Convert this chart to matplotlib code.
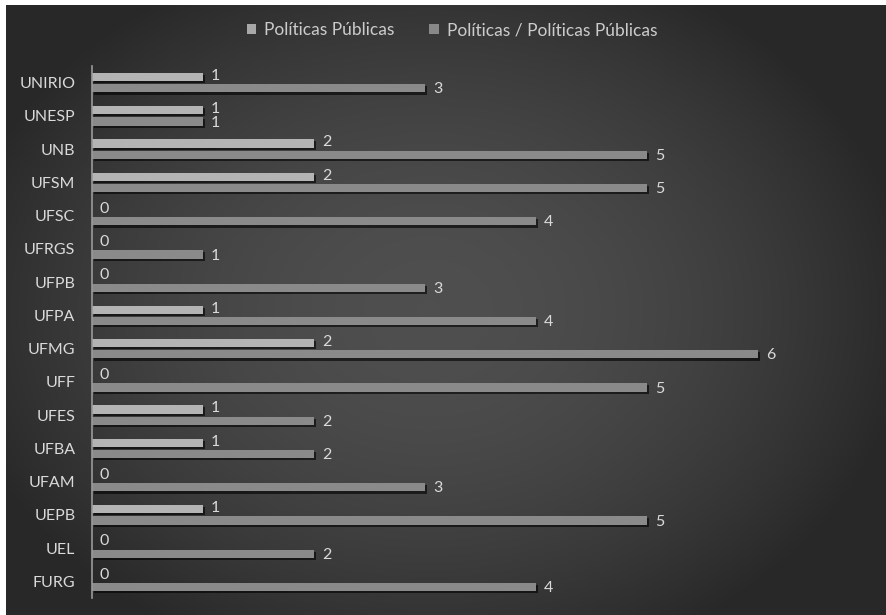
import numpy as np
import matplotlib
matplotlib.use("Agg")
import matplotlib.pyplot as plt
import matplotlib.patheffects as pe

categories = ["UNIRIO", "UNESP", "UNB", "UFSM", "UFSC", "UFRGS", "UFPB", "UFPA",
              "UFMG", "UFF", "UFES", "UFBA", "UFAM", "UEPB", "UEL", "FURG"]
politicas_publicas = [1, 1, 2, 2, 0, 0, 0, 1, 2, 0, 1, 1, 0, 1, 0, 0]
politicas_politicas_publicas = [3, 1, 5, 5, 4, 1, 3, 4, 6, 5, 2, 2, 3, 5, 2, 4]
series_names = ["Políticas Públicas", "Políticas / Políticas Públicas"]

W, H = 887, 615
fig = plt.figure(figsize=(W / 100, H / 100), dpi=100)
fig.patch.set_facecolor("white")

# background radial gradient panel
bg = fig.add_axes([6 / W, 0, 1 - 6 / W, 1 - 5 / H])
yy, xx = np.mgrid[0:1:300j, 0:1:440j]
r = np.sqrt(((xx - 0.48) / 0.8) ** 2 + ((yy - 0.5) / 0.9) ** 2)
val = 0.31 - 0.15 * np.clip(r / 0.68, 0, 1) ** 1.8
img = np.dstack([val, val, val])
bg.imshow(img, aspect="auto", extent=[0, 1, 0, 1], origin="lower")
bg.axis("off")

font = ["Lato", "DejaVu Sans"]
txt_color = "#dadada"

ax = fig.add_axes([92 / W, 1 - 598 / H, (869 - 92) / W, (598 - 66) / H])
ax.set_facecolor("none")
n = len(categories)
y = np.arange(n)[::-1]
h = 0.25
off = 0.17
shadow = [pe.SimplePatchShadow(offset=(1.5, -1.5), shadow_rgbFace="black", alpha=0.6), pe.Normal()]
b1 = ax.barh(y + off, politicas_publicas, height=h, color="#b4b4b4", label=series_names[0],
             path_effects=shadow)
b2 = ax.barh(y - off, politicas_politicas_publicas, height=h, color="#8a8a8a", label=series_names[1],
             path_effects=shadow)

for yi, v in zip(y, politicas_publicas):
    ax.text(v + 0.07, yi + off + 0.03, str(v), color=txt_color, fontsize=11.5,
            va="center", ha="left", family=font)
for yi, v in zip(y, politicas_politicas_publicas):
    ax.text(v + 0.07, yi - off - 0.03, str(v), color=txt_color, fontsize=11.5,
            va="center", ha="left", family=font)

ax.set_xlim(0, 7)
ax.set_ylim(-0.5, n - 0.5)
ax.set_yticks(y)
ax.set_yticklabels(categories, color=txt_color, fontsize=11.5, family=font)
ax.tick_params(axis="y", length=0, pad=12)
ax.set_xticks([])
for s in ["top", "right", "bottom"]:
    ax.spines[s].set_visible(False)
ax.spines["left"].set_color("#9a9a9a")
ax.spines["left"].set_linewidth(1.2)

leg = fig.legend(handles=[b1, b2], labels=series_names, loc="center",
                 bbox_to_anchor=(452 / W, 1 - 30 / H), ncol=2, frameon=False,
                 prop={"family": font, "size": 12.5}, handlelength=0.55, handleheight=0.55,
                 columnspacing=2.0, handletextpad=0.45)
for t in leg.get_texts():
    t.set_color("#cccccc")
for p, c in zip(leg.legend_handles, ["#a8a8a8", "#888888"]):
    p.set_path_effects([])
    p.set_facecolor(c)

fig.savefig("out.png", dpi=100, facecolor=fig.get_facecolor())
